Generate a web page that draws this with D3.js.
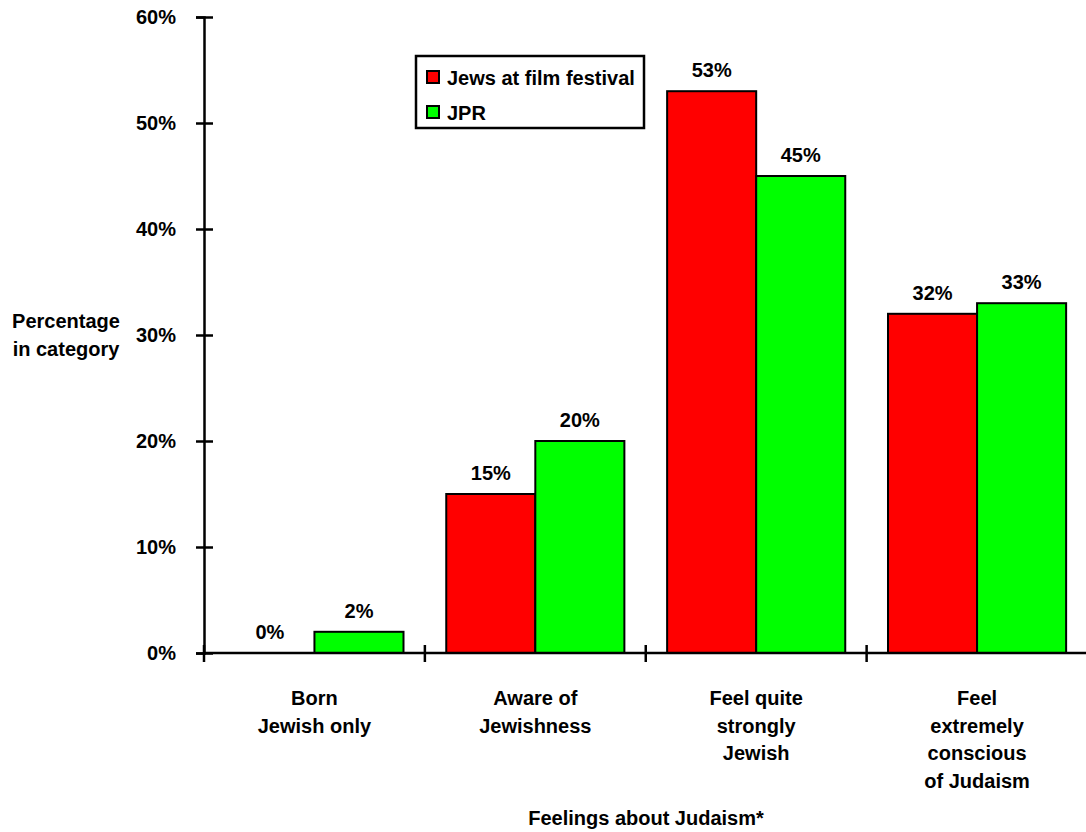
<!DOCTYPE html>
<html>
<head>
<meta charset="utf-8">
<script src="https://cdn.jsdelivr.net/npm/d3@7"></script>
<style>
  html, body { margin: 0; padding: 0; background: #fff; }
  svg text { font-family: "Liberation Sans", Arial, sans-serif; font-weight: bold; fill: #000; }
</style>
</head>
<body>
<svg id="chart" width="1086" height="832"></svg>
<script>
// Category labels (one entry per line) and the two series
const categories = ["Born Jewish only", "Aware of Jewishness", "Feel quite strongly Jewish", "Feel extremely conscious of Judaism"];
const categoryLines = [
  ["Born", "Jewish only"],
  ["Aware of", "Jewishness"],
  ["Feel quite", "strongly", "Jewish"],
  ["Feel", "extremely", "conscious", "of Judaism"]
];
const seriesNames = ["Jews at film festival", "JPR"];
const filmFestival = [0, 15, 53, 32];
const jpr = [2, 20, 45, 33];
const yTicks = [0, 10, 20, 30, 40, 50, 60];
const seriesColors = ["#FF0000", "#00FF00"];

const svg = d3.select("#chart");
const fontSize = 20;

const x0 = d3.scaleBand().domain(categories).range([204, 1087.5]).padding(0);
const x1 = d3.scaleBand().domain(seriesNames).range([0, x0.bandwidth()]).paddingInner(0).paddingOuter(0.24);
const y = d3.scaleLinear().domain([0, 60]).range([653, 17]);

const seriesValues = [filmFestival, jpr];

// Bars
const groups = svg.append("g").selectAll("g")
  .data(categories)
  .join("g")
  .attr("transform", d => `translate(${x0(d)},0)`);

groups.each(function(cat, ci) {
  const g = d3.select(this);
  seriesNames.forEach((s, si) => {
    const v = seriesValues[si][ci];
    if (v > 0) {
      g.append("rect")
        .attr("x", x1(s))
        .attr("y", y(v))
        .attr("width", x1.bandwidth())
        .attr("height", y(0) - y(v))
        .attr("fill", seriesColors[si])
        .attr("stroke", "#000")
        .attr("stroke-width", 2);
    }
    g.append("text")
      .attr("x", x1(s) + x1.bandwidth() / 2)
      .attr("y", y(v) - 14)
      .attr("text-anchor", "middle")
      .attr("font-size", fontSize)
      .text(v + "%");
  });
});

// Y axis with ticks crossing the line
const yAxis = svg.append("g")
  .attr("transform", "translate(204,0)")
  .call(d3.axisLeft(y).tickValues(yTicks).tickSize(8).tickPadding(20).tickFormat(d => d + "%"));
yAxis.select(".domain").attr("stroke", "#000").attr("stroke-width", 2.5);
yAxis.selectAll(".tick line").attr("x1", 9).attr("stroke", "#000").attr("stroke-width", 2.5);
yAxis.selectAll(".tick text")
  .attr("font-size", fontSize)
  .attr("font-family", "Liberation Sans, Arial, sans-serif")
  .attr("font-weight", "bold")
  .attr("fill", "#000");

// X axis line with ticks at category boundaries
const xAxis = svg.append("g");
xAxis.append("line")
  .attr("x1", x0.range()[0]).attr("x2", x0.range()[1])
  .attr("y1", y(0)).attr("y2", y(0))
  .attr("stroke", "#000").attr("stroke-width", 2.5);
const boundaries = categories.map(c => x0(c)).concat([x0.range()[1]]);
xAxis.selectAll("line.tick")
  .data(boundaries)
  .join("line")
  .attr("class", "tick")
  .attr("x1", d => d).attr("x2", d => d)
  .attr("y1", y(0) - 8).attr("y2", y(0) + 9)
  .attr("stroke", "#000").attr("stroke-width", 2.5);

// Category labels
categories.forEach((c, ci) => {
  const t = svg.append("text")
    .attr("text-anchor", "middle")
    .attr("font-size", fontSize);
  categoryLines[ci].forEach((line, li) => {
    t.append("tspan")
      .attr("x", x0(c) + x0.bandwidth() / 2)
      .attr("y", 705 + li * 27.7)
      .text(line);
  });
});

// Axis titles
svg.append("text")
  .attr("x", 646).attr("y", 825)
  .attr("text-anchor", "middle")
  .attr("font-size", fontSize)
  .text("Feelings about Judaism*");

const yTitle = svg.append("text")
  .attr("text-anchor", "middle")
  .attr("font-size", fontSize);
["Percentage", "in category"].forEach((line, li) => {
  yTitle.append("tspan").attr("x", 66).attr("y", 328 + li * 28).text(line);
});

// Legend
const legend = svg.append("g");
legend.append("rect")
  .attr("x", 416).attr("y", 56).attr("width", 228).attr("height", 72)
  .attr("fill", "#fff").attr("stroke", "#000").attr("stroke-width", 2.5);
seriesNames.forEach((s, si) => {
  const ly = 71 + si * 35;
  legend.append("rect")
    .attr("x", 427).attr("y", ly).attr("width", 12).attr("height", 12)
    .attr("fill", seriesColors[si]).attr("stroke", "#000").attr("stroke-width", 2);
  legend.append("text")
    .attr("x", 447).attr("y", ly + 14)
    .attr("font-size", fontSize)
    .text(s);
});
</script>
</body>
</html>
